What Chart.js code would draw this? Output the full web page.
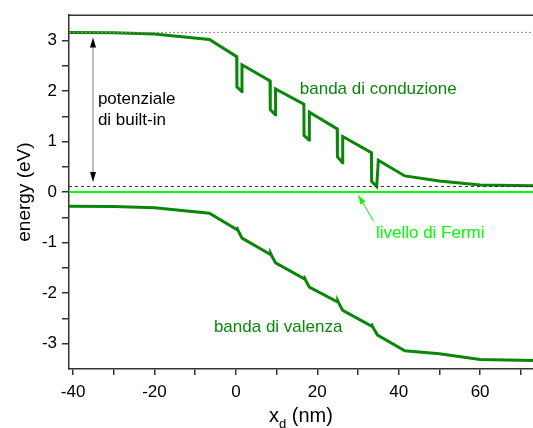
<!DOCTYPE html>
<html>
<head>
<meta charset="utf-8">
<script src="https://cdn.jsdelivr.net/npm/chart.js@4"></script>
<style>
  body { margin: 0; background: #fff; }
  canvas { display: block; }
</style>
</head>
<body>
<canvas id="bandChart" width="533" height="428"></canvas>
<script>
// banda di conduzione (x in nm, energia in eV)
const condX = [-41, -30, -20, -6.5, 0.2, 0.25, 1.45, 1.5, 8.4, 8.45, 9.7, 9.75, 16.7, 16.75, 18.0, 18.05,
               24.9, 24.95, 26.2, 26.25, 33.3, 33.35, 34.6, 35.0, 41.5, 50, 60, 73];
const condE = [3.16, 3.155, 3.13, 3.02, 2.68, 2.08, 1.99, 2.52, 2.2, 1.63, 1.53, 2.04, 1.74, 1.12, 1.03, 1.58,
               1.25, 0.70, 0.58, 1.10, 0.78, 0.21, 0.11, 0.63, 0.32, 0.22, 0.14, 0.125];

// banda di valenza
const valX = [-41, -30, -20, -6.5, 0.2, 0.35, 0.8, 1.5, 8.4, 8.55, 9.0, 9.75, 16.7, 16.85, 17.3, 18.05,
              24.9, 25.05, 25.5, 26.25, 33.3, 33.45, 33.9, 34.8, 41.5, 50, 60, 73];
const valE = [-0.28, -0.285, -0.31, -0.42, -0.74, -0.725, -0.80, -0.91, -1.23, -1.215, -1.29, -1.40,
              -1.71, -1.695, -1.77, -1.88, -2.17, -2.155, -2.23, -2.34, -2.65, -2.635, -2.71, -2.83,
              -3.14, -3.20, -3.31, -3.33];

const fermiLevel = 0;
const topLevel = 3.16;    // livello di riferimento superiore (punteggiato)
const lowLevel = 0.11;    // livello di riferimento inferiore (tratteggiato)
const xRange = [-41, 73];

const xTicks = [-40, -30, -20, -10, 0, 10, 20, 30, 40, 50, 60, 70];
const xLabels = [-40, -20, 0, 20, 40, 60];
const yTicks = [-3, -2.5, -2, -1.5, -1, -0.5, 0, 0.5, 1, 1.5, 2, 2.5, 3];
const yLabels = [-3, -2, -1, 0, 1, 2, 3];

const FONT = "'Liberation Sans', Arial, sans-serif";
const DARK_GREEN = '#0a870a';
const LIGHT_GREEN = '#00ff00';

function pts(xs, ys) {
  return xs.map((x, i) => ({ x: x, y: ys[i] }));
}
function hline(v) {
  return [{ x: xRange[0], y: v }, { x: xRange[1], y: v }];
}

// annotazioni, assi e cornice superiore
const extras = {
  id: 'extras',
  afterDatasetsDraw(chart) {
    const { ctx, chartArea: { top, bottom, left, right }, scales: { x, y } } = chart;
    ctx.save();

    // linea superiore del riquadro
    ctx.strokeStyle = '#333';
    ctx.lineWidth = 1.5;
    ctx.beginPath();
    ctx.moveTo(left, top);
    ctx.lineTo(right, top);
    ctx.stroke();

    // freccia doppia del potenziale di built-in
    const ax = x.getPixelForValue(-35.1);
    const ay1 = y.getPixelForValue(3.06);
    const ay2 = y.getPixelForValue(0.2);
    ctx.strokeStyle = '#aaa';
    ctx.lineWidth = 1.5;
    ctx.beginPath();
    ctx.moveTo(ax, ay1 + 8);
    ctx.lineTo(ax, ay2 - 8);
    ctx.stroke();
    ctx.fillStyle = '#000';
    ctx.beginPath();
    ctx.moveTo(ax, ay1); ctx.lineTo(ax - 3, ay1 + 10); ctx.lineTo(ax + 3, ay1 + 10);
    ctx.closePath(); ctx.fill();
    ctx.beginPath();
    ctx.moveTo(ax, ay2); ctx.lineTo(ax - 3, ay2 - 10); ctx.lineTo(ax + 3, ay2 - 10);
    ctx.closePath(); ctx.fill();

    // freccia del livello di Fermi
    const fx1 = x.getPixelForValue(33.8), fy1 = y.getPixelForValue(-0.57);
    const fx2 = x.getPixelForValue(30.1), fy2 = y.getPixelForValue(-0.06);
    ctx.strokeStyle = LIGHT_GREEN;
    ctx.lineWidth = 1;
    ctx.beginPath();
    ctx.moveTo(fx1, fy1);
    ctx.lineTo(fx2, fy2);
    ctx.stroke();
    const ang = Math.atan2(fy2 - fy1, fx2 - fx1);
    ctx.fillStyle = LIGHT_GREEN;
    ctx.beginPath();
    ctx.moveTo(fx2, fy2);
    ctx.lineTo(fx2 - 9 * Math.cos(ang) + 3 * Math.sin(ang), fy2 - 9 * Math.sin(ang) - 3 * Math.cos(ang));
    ctx.lineTo(fx2 - 9 * Math.cos(ang) - 3 * Math.sin(ang), fy2 - 9 * Math.sin(ang) + 3 * Math.cos(ang));
    ctx.closePath(); ctx.fill();

    // testi
    ctx.font = '17px ' + FONT;
    ctx.textBaseline = 'middle';
    ctx.textAlign = 'left';
    ctx.fillStyle = '#000';
    ctx.fillText('potenziale', x.getPixelForValue(-33.9), y.getPixelForValue(1.83));
    ctx.fillText('di built-in', x.getPixelForValue(-33.9), y.getPixelForValue(1.42));
    ctx.fillStyle = DARK_GREEN;
    ctx.fillText('banda di conduzione', x.getPixelForValue(15.7), y.getPixelForValue(2.03));
    ctx.fillText('banda di valenza', x.getPixelForValue(-5.4), y.getPixelForValue(-2.67));
    ctx.fillStyle = LIGHT_GREEN;
    ctx.fillText('livello di Fermi', x.getPixelForValue(34.4), y.getPixelForValue(-0.81));

    // titoli degli assi
    ctx.fillStyle = '#000';
    ctx.font = '19px ' + FONT;
    ctx.save();
    ctx.translate(25, (top + bottom) / 2);
    ctx.rotate(-Math.PI / 2);
    ctx.textAlign = 'center';
    ctx.fillText('energy (eV)', 0, 0);
    ctx.restore();

    const cx = (left + right) / 2;
    const ty = 416;
    ctx.font = '20px ' + FONT;
    const w1 = ctx.measureText('x').width;
    const w3 = ctx.measureText(' (nm)').width;
    ctx.font = '13px ' + FONT;
    const w2 = ctx.measureText('d').width;
    let sx = cx - (w1 + w2 + w3) / 2;
    ctx.font = '20px ' + FONT;
    ctx.textAlign = 'left';
    ctx.fillText('x', sx, ty);
    ctx.font = '13px ' + FONT;
    ctx.fillText('d', sx + w1, ty + 8);
    ctx.font = '20px ' + FONT;
    ctx.fillText(' (nm)', sx + w1 + w2, ty);

    ctx.restore();
  }
};

const ctx = document.getElementById('bandChart').getContext('2d');
new Chart(ctx, {
  type: 'line',
  data: {
    datasets: [
      { data: hline(topLevel), borderColor: '#888', borderWidth: 1, borderDash: [2, 2], pointRadius: 0 },
      { data: hline(lowLevel), borderColor: '#333', borderWidth: 1, borderDash: [3, 3], pointRadius: 0 },
      { data: hline(fermiLevel), borderColor: LIGHT_GREEN, borderWidth: 2, pointRadius: 0 },
      { data: pts(condX, condE), borderColor: DARK_GREEN, borderWidth: 3, pointRadius: 0, tension: 0 },
      { data: pts(valX, valE), borderColor: DARK_GREEN, borderWidth: 3, pointRadius: 0, tension: 0 }
    ]
  },
  options: {
    responsive: false,
    animation: false,
    layout: { padding: { top: 12, right: 0, left: 0, bottom: 0 } },
    plugins: { legend: { display: false }, tooltip: { enabled: false } },
    scales: {
      x: {
        type: 'linear',
        min: xRange[0],
        max: xRange[1],
        afterBuildTicks: s => { s.ticks = xTicks.map(v => ({ value: v })); },
        afterFit: s => { s.height = 59; },
        grid: { drawOnChartArea: false, tickLength: 6, tickColor: '#333', lineWidth: 1.5 },
        border: { color: '#333', width: 1.5 },
        ticks: {
          autoSkip: false, maxRotation: 0, padding: 7, color: '#000',
          font: { family: FONT, size: 17 },
          callback: v => xLabels.includes(v) ? String(v) : ''
        }
      },
      y: {
        min: -3.5,
        max: 3.5,
        afterBuildTicks: s => { s.ticks = yTicks.map(v => ({ value: v })); },
        afterFit: s => { s.width = 69; },
        grid: { drawOnChartArea: false, tickLength: 7, tickColor: '#333', lineWidth: 1.5 },
        border: { color: '#333', width: 1.5 },
        ticks: {
          autoSkip: false, padding: 5, color: '#000',
          font: { family: FONT, size: 17 },
          callback: v => yLabels.includes(v) ? String(v) : ''
        }
      }
    }
  },
  plugins: [extras]
});
</script>
</body>
</html>
